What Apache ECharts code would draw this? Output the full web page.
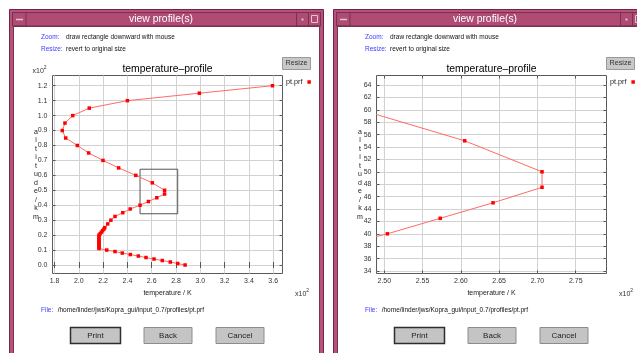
<!DOCTYPE html>
<html><head><meta charset="utf-8">
<script src="https://cdn.jsdelivr.net/npm/echarts@6/dist/echarts.min.js"></script>
<style>html,body{margin:0;padding:0;background:#fff;overflow:hidden}#c{width:637px;height:353px}</style>
</head><body><div id="c"></div>
<script>
// ---------------- data ----------------
const altitudeKm = [0,1,2,3,4,5,6,7,8,9,10,11,12,13,14,15,16,17,18,19,20,21,22,23,24,25,
  27.5,30,32.5,35,37.5,40,42.5,45,47.5,50,55,60,65,70,75,80,85,90,95,100,105,110,115,120];
const temperatureK = [287.5,281.4,275.3,268.7,261.9,255.3,249.0,242.4,235.8,229.8,223.0,216.6,216.6,216.6,216.6,216.6,216.6,216.6,216.6,216.6,216.6,217.6,218.6,219.6,220.6,221.4,
  223.8,226.4,229.8,236.2,242.3,250.4,257.3,264.2,270.6,270.6,260.5,246.9,232.8,219.9,208.1,198.8,189.2,186.4,188.6,195.0,208.6,240.0,299.2,359.4];
const seriesName = 'pt.prf';
const chartTitle = 'temperature\u2013profile';
const xAxisName = 'temperature / K';
const yAxisName = 'altitude / km';
const leftXTicks = [180,200,220,240,260,280,300,320,340,360];
const leftYTicks = [0,10,20,30,40,50,60,70,80,90,100,110,120];
const rightXTicks = [250,255,260,265,270,275];
const rightYTicks = [34,36,38,40,42,44,46,48,50,52,54,56,58,60,62,64];
const zoomBoxT = [250.4, 281.4];
const zoomBoxA = [34.3, 64.1];
const windowTitle = 'view profile(s)';
const zoomHelp = ['Zoom:', 'draw rectangle downward with mouse'];
const resizeHelp = ['Resize:', 'revert to original size'];
const fileLabel = 'File:';
const filePath = '/home/linder/jws/Kopra_gui/input_0.7/profiles/pt.prf';
const buttonLabels = ['Print', 'Back', 'Cancel'];
const resizeLabel = 'Resize';
const scaleMark = ['x10', '2'];

// ---------------- chart ----------------
const FONT = '"Liberation Sans", Arial, Helvetica, sans-serif';
const points = temperatureK.map((t, i) => [t, altitudeKm[i]]);
const chart = echarts.init(document.getElementById('c'), null, {renderer: 'canvas'});

const gridBase = {show: true, backgroundColor: '#fff', borderColor: '#5a5a5a', borderWidth: 1, containLabel: false, outerBoundsMode: 'none'};
const labelStyle = {fontSize: 7, color: '#333', fontFamily: FONT};
const tickStyle = {show: true, inside: true, length: 3, lineStyle: {color: '#555', width: 1}};
const splitStyle = {show: true, lineStyle: {color: '#d2d2d2', width: 1}};
const vertName = yAxisName.replace(/ /g, '').split('').join('\n');

function xAxes(gi, min, max, ticks, fmt) {
  return [
    {type: 'value', gridIndex: gi, min, max, position: 'bottom', axisLine: {show: false},
     axisTick: Object.assign({customValues: ticks}, tickStyle),
     axisLabel: Object.assign({customValues: ticks, formatter: fmt, margin: 4}, labelStyle),
     splitLine: splitStyle,
     name: xAxisName, nameLocation: 'middle', nameGap: 20, nameMoveOverlap: false,
     nameTextStyle: {fontSize: 7, color: '#222', fontFamily: FONT, verticalAlign: 'middle', align: 'center'}},
    {type: 'value', gridIndex: gi, min, max, position: 'top', axisLine: {show: false},
     axisTick: Object.assign({customValues: ticks}, tickStyle),
     axisLabel: {show: false}, splitLine: {show: false}}
  ];
}
function yAxes(gi, min, max, ticks, fmt) {
  return [
    {type: 'value', gridIndex: gi, min, max, position: 'left', axisLine: {show: false},
     axisTick: Object.assign({customValues: ticks}, tickStyle),
     axisLabel: Object.assign({customValues: ticks, formatter: fmt, margin: 5}, labelStyle),
     splitLine: splitStyle,
     name: vertName, nameLocation: 'middle', nameGap: 16.5, nameRotate: 0, nameMoveOverlap: false,
     nameTextStyle: {fontSize: 7, color: '#222', fontFamily: FONT, align: 'center', verticalAlign: 'middle', lineHeight: 8.5}},
    {type: 'value', gridIndex: gi, min, max, position: 'right', axisLine: {show: false},
     axisTick: Object.assign({customValues: ticks}, tickStyle),
     axisLabel: {show: false}, splitLine: {show: false}}
  ];
}

function seriesFor(xi, yi, withBox) {
  const s = {
    name: seriesName, type: 'line', xAxisIndex: xi, yAxisIndex: yi, data: points,
    symbol: 'rect', symbolSize: 3.5, showSymbol: true, clip: true,
    itemStyle: {color: '#ff0000'},
    lineStyle: {color: '#ff6a6a', width: 1},
    emphasis: {disabled: true}, animation: false
  };
  if (withBox) {
    s.markArea = {silent: true, label: {show: false},
      itemStyle: {color: 'rgba(0,0,0,0)', borderColor: '#555', borderWidth: 1},
      data: [[{coord: [zoomBoxT[0], zoomBoxA[1]]}, {coord: [zoomBoxT[1], zoomBoxA[0]]}]]};
  }
  return s;
}

// ---------------- window chrome (graphics) ----------------
function windowGraphics(dx) {
  const els = [];
  const txt = (x, y, text, o) => els.push(Object.assign({type: 'text', x: dx + x, y, z: 10,
    style: Object.assign({text, fontFamily: FONT, fontSize: 6.5, fill: '#111', textVerticalAlign: 'middle'}, o || {})}));
  els.push({type: 'rect', z: -100, shape: {x: dx + 9.5, y: 9.5, width: 314, height: 360}, style: {fill: '#b5537c', stroke: '#6e2646', lineWidth: 1}});
  els.push({type: 'rect', z: -99, shape: {x: dx + 13.5, y: 26.5, width: 306, height: 340}, style: {fill: '#ffffff', stroke: '#7a3050', lineWidth: 1}});
  els.push({type: 'rect', z: -98, shape: {x: dx + 12.5, y: 12.5, width: 308, height: 13.5}, style: {fill: '#b04b74', stroke: '#7a3050', lineWidth: 1}});
  // title bar buttons
  els.push({type: 'rect', z: -97, shape: {x: dx + 12.5, y: 12.5, width: 13.5, height: 13.5}, style: {fill: 'none', stroke: '#7a3050', lineWidth: 1}});
  els.push({type: 'line', z: -96, shape: {x1: dx + 16, y1: 19.5, x2: dx + 23, y2: 19.5}, style: {stroke: '#e9c3d3', lineWidth: 1.5}});
  els.push({type: 'rect', z: -97, shape: {x: dx + 296.5, y: 12.5, width: 12, height: 13.5}, style: {fill: 'none', stroke: '#7a3050', lineWidth: 1}});
  els.push({type: 'rect', z: -96, shape: {x: dx + 301.5, y: 18.5, width: 2, height: 2}, style: {fill: '#e9c3d3'}});
  els.push({type: 'rect', z: -97, shape: {x: dx + 308.5, y: 12.5, width: 12, height: 13.5}, style: {fill: 'none', stroke: '#7a3050', lineWidth: 1}});
  els.push({type: 'rect', z: -96, shape: {x: dx + 311.5, y: 15.5, width: 6, height: 7}, style: {fill: 'none', stroke: '#e9c3d3', lineWidth: 1}});
  txt(161, 19.5, windowTitle, {fontSize: 10.4, fill: '#ffffff', textAlign: 'center'});
  // help lines
  txt(41, 37.7, zoomHelp[0], {fill: '#3a3aff'});
  txt(66, 37.7, zoomHelp[1]);
  txt(41, 49, resizeHelp[0], {fill: '#3a3aff'});
  txt(66, 49, resizeHelp[1]);
  // resize button
  els.push({type: 'rect', z: 5, shape: {x: dx + 282.5, y: 57.5, width: 28, height: 12}, style: {fill: '#c8c8c8', stroke: '#9a9a9a', lineWidth: 1}});
  txt(296.5, 63.5, resizeLabel, {fontSize: 7.2, fill: '#333', textAlign: 'center'});
  // file line
  txt(41, 310.3, fileLabel, {fill: '#3a3aff'});
  txt(57.7, 310.3, filePath);
  // buttons
  const bx = [[70, 50], [143.5, 48], [215.5, 48]];
  buttonLabels.forEach((lab, i) => {
    els.push({type: 'rect', z: 5, shape: {x: dx + bx[i][0] + 0.5, y: 327.5, width: bx[i][1], height: 16},
      style: {fill: '#c4c4c4', stroke: i === 0 ? '#2e2e2e' : '#8c8c8c', lineWidth: i === 0 ? 1.5 : 1}});
    txt(bx[i][0] + bx[i][1] / 2 + 0.5, 335.5, lab, {fontSize: 8, fill: '#222', textAlign: 'center'});
  });
  // scale marks
  txt(295, 294.5, scaleMark[0], {fontSize: 7, fill: '#333'});
  txt(306.3, 290.5, scaleMark[1], {fontSize: 5, fill: '#333'});
  return els;
}
const leftScaleTop = [
  {type: 'text', x: 32.5, y: 71, z: 10, style: {text: scaleMark[0], fontFamily: FONT, fontSize: 7, fill: '#333', textVerticalAlign: 'middle'}},
  {type: 'text', x: 43.8, y: 67.2, z: 10, style: {text: scaleMark[1], fontFamily: FONT, fontSize: 5, fill: '#333', textVerticalAlign: 'middle'}}
];

const option = {
  animation: false,
  backgroundColor: '#ffffff',
  title: [
    {text: chartTitle, left: 167.5, top: 64.5, padding: 0, textAlign: 'center', textStyle: {fontSize: 10.4, fontWeight: 'normal', color: '#000', fontFamily: FONT}},
    {text: chartTitle, left: 491.5, top: 64.5, padding: 0, textAlign: 'center', textStyle: {fontSize: 10.4, fontWeight: 'normal', color: '#000', fontFamily: FONT}}
  ],
  legend: [
    {data: [seriesName], left: 286, top: 78.5, padding: 0, align: 'right', icon: 'rect', itemWidth: 3.5, itemHeight: 3.5, selectedMode: false, textStyle: {fontSize: 7.2, color: '#222', fontFamily: FONT}},
    {data: [seriesName], left: 610, top: 78.5, padding: 0, align: 'right', icon: 'rect', itemWidth: 3.5, itemHeight: 3.5, selectedMode: false, textStyle: {fontSize: 7.2, color: '#222', fontFamily: FONT}}
  ],
  grid: [
    Object.assign({left: 52.5, top: 75.5, width: 230, height: 198}, gridBase),
    Object.assign({left: 376.5, top: 75.5, width: 230, height: 198}, gridBase)
  ],
  xAxis: [].concat(
    xAxes(0, 178.35, 367.65, leftXTicks, v => (v / 100).toFixed(1)),
    xAxes(1, 248.98, 279.02, rightXTicks, v => (v / 100).toFixed(2))
  ),
  yAxis: [].concat(
    yAxes(0, -5.69, 126.84, leftYTicks, v => (v / 100).toFixed(1)),
    yAxes(1, 33.60, 65.53, rightYTicks, v => String(v))
  ),
  series: [seriesFor(0, 0, true), seriesFor(2, 2, false)],
  graphic: {elements: [].concat(windowGraphics(0), windowGraphics(324), leftScaleTop)}
};
chart.setOption(option);
</script></body></html>
